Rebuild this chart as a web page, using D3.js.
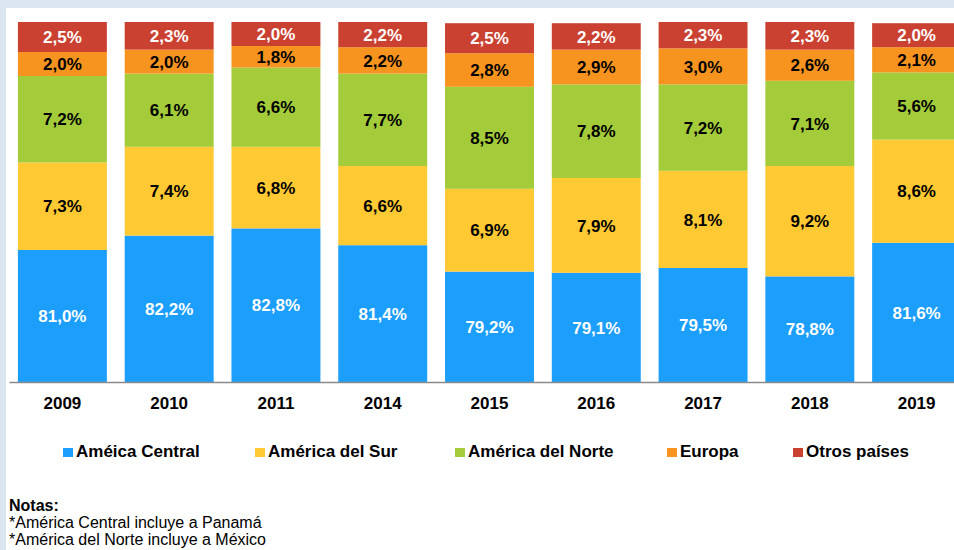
<!DOCTYPE html>
<html>
<head>
<meta charset="utf-8">
<script src="https://cdn.jsdelivr.net/npm/d3@7"></script>
<style>
  html, body { margin: 0; padding: 0; background: #dce6f1; }
  body { width: 954px; height: 550px; overflow: hidden; position: relative; }
  svg { position: absolute; left: 0; top: 0; }
</style>
</head>
<body>
<svg id="chart" width="954" height="550"></svg>
<script>
// data
var years = ["2009", "2010", "2011", "2014", "2015", "2016", "2017", "2018", "2019"];
var centralAmerica = [81.0, 82.2, 82.8, 81.4, 79.2, 79.1, 79.5, 78.8, 81.6];
var southAmerica   = [7.3, 7.4, 6.8, 6.6, 6.9, 7.9, 8.1, 9.2, 8.6];
var northAmerica   = [7.2, 6.1, 6.6, 7.7, 8.5, 7.8, 7.2, 7.1, 5.6];
var europe         = [2.0, 2.0, 1.8, 2.2, 2.8, 2.9, 3.0, 2.6, 2.1];
var others         = [2.5, 2.3, 2.0, 2.2, 2.5, 2.2, 2.3, 2.3, 2.0];

var seriesNames = ["Améica Central", "América del Sur", "América del Norte", "Europa", "Otros países"];
var seriesKeys = ["central", "sur", "norte", "europa", "otros"];
var colors = ["#1b9efc", "#ffc933", "#a3cb3a", "#f7941f", "#cb4131"];
var labelColors = ["#fff", "#000", "#000", "#000", "#fff"];
var notes = ["Notas:", "*América Central incluye a Panamá", "*América del Norte incluye a México"];

var font = "Liberation Sans, Arial, sans-serif";
var svg = d3.select("#chart");

// white panel
svg.append("rect")
    .attr("x", 6).attr("y", 8)
    .attr("width", 960).attr("height", 560)
    .attr("fill", "#fff");

var table = years.map(function(y, i) {
  return {year: y, central: centralAmerica[i], sur: southAmerica[i],
          norte: northAmerica[i], europa: europe[i], otros: others[i]};
});

var xScale = d3.scaleBand()
    .domain(years)
    .range([9, 970])
    .paddingInner(0.167)
    .paddingOuter(0.0835);

// the original axis does not start at zero
var yScale = d3.scaleLinear()
    .domain([70, 100])
    .range([382, 22]);

var stack = d3.stack().keys(seriesKeys)(table);

var layers = svg.selectAll(".layer")
  .data(stack)
  .enter().append("g")
    .attr("class", "layer")
    .attr("fill", function(d, i) { return colors[i]; });

layers.selectAll("rect")
  .data(function(d) { return d; })
  .enter().append("rect")
    .attr("x", function(d) { return xScale(d.data.year); })
    .attr("y", function(d) { return yScale(Math.min(d[1], 100)); })
    .attr("width", xScale.bandwidth())
    .attr("height", function(d) {
      var lo = Math.max(d[0], 70);
      return yScale(lo) - yScale(Math.min(d[1], 100));
    });

var fmt = function(v) { return v.toFixed(1).replace(".", ",") + "%"; };

stack.forEach(function(layer, i) {
  svg.append("g")
    .selectAll("text")
    .data(layer)
    .enter().append("text")
      .attr("x", function(d) { return xScale(d.data.year) + xScale.bandwidth() / 2; })
      .attr("y", function(d) {
        var lo = Math.max(d[0], 70), hi = Math.min(d[1], 100);
        return (yScale(lo) + yScale(hi)) / 2;
      })
      .attr("dy", "0.36em")
      .attr("text-anchor", "middle")
      .attr("font-family", font)
      .attr("font-weight", "bold")
      .attr("font-size", 17)
      .attr("fill", labelColors[i])
      .text(function(d) { return fmt(d[1] - d[0]); });
});

// x axis
var xAxis = d3.axisBottom(xScale).tickSize(0).tickPadding(15);
var gx = svg.append("g")
    .attr("transform", "translate(0,382)")
    .call(xAxis);
gx.select(".domain").attr("stroke", "#8a8a8a").attr("stroke-width", 1.5);
gx.selectAll("text")
    .attr("font-family", font)
    .attr("font-weight", "bold")
    .attr("font-size", 17)
    .attr("fill", "#000");

// legend
var legendX = [63, 255, 455, 667, 793];
var legend = svg.append("g")
  .selectAll("g")
  .data(seriesNames)
  .enter().append("g")
    .attr("transform", function(d, i) { return "translate(" + legendX[i] + ",452)"; });
legend.append("rect")
    .attr("x", 0).attr("y", -4)
    .attr("width", 10).attr("height", 9)
    .attr("fill", function(d, i) { return colors[i]; });
legend.append("text")
    .attr("x", 13)
    .attr("y", 5)
    .attr("font-family", font)
    .attr("font-weight", "bold")
    .attr("font-size", 17)
    .attr("fill", "#000")
    .text(function(d) { return d; });

// notes
svg.append("g")
  .selectAll("text")
  .data(notes)
  .enter().append("text")
    .attr("x", 9)
    .attr("y", function(d, i) { return 511 + i * 17; })
    .attr("font-family", font)
    .attr("font-weight", function(d, i) { return i == 0 ? "bold" : "normal"; })
    .attr("font-size", 16)
    .attr("fill", "#000")
    .text(function(d) { return d; });
</script>
</body>
</html>
